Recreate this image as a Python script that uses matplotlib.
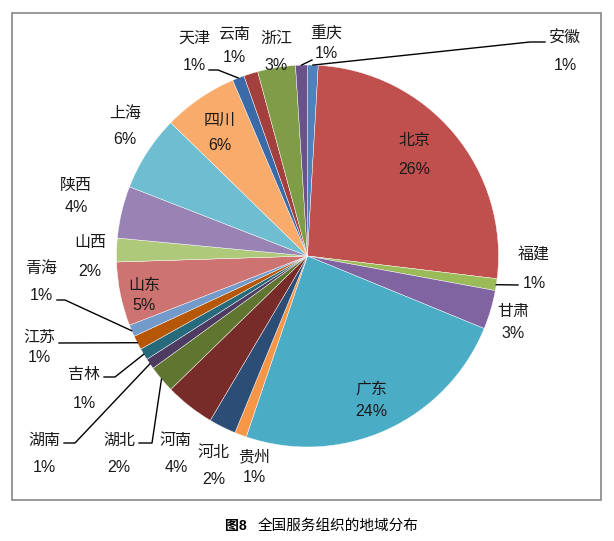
import matplotlib
matplotlib.use("Agg")
import matplotlib.pyplot as plt
from matplotlib.patches import Rectangle

plt.rcParams['font.family'] = ['Liberation Sans', 'Noto Sans CJK SC']

# data: share of service organisations by region (%), clockwise from 12 o'clock
regions = ['安徽', '北京', '福建', '甘肃', '广东', '贵州', '河北', '河南', '湖北', '湖南', '吉林',
           '江苏', '青海', '山东', '山西', '陕西', '上海', '四川', '天津', '云南', '浙江', '重庆']
shares = [0.9, 26.0, 1.0, 3.3, 24.0, 1.0, 2.3, 4.2, 2.3, 0.9, 1.0,
          1.2, 1.0, 5.4, 2.0, 4.4, 6.4, 6.3, 1.0, 1.2, 3.2, 1.0]
title_a = '图8'
title_b = '全国服务组织的地域分布'

# excel 2010 palette
colors = ['#4F81BD', '#C0504D', '#9BBB59', '#8064A2', '#4BACC6', '#F79646',
          '#2C4D75', '#772C2A', '#5F7530', '#4D3B62', '#276A7C', '#B65708',
          '#729ACA', '#CD7371', '#AFC97A', '#9983B5', '#6FBDD1', '#F9AB6B',
          '#3A6BA8', '#A33F3C', '#7F9D46', '#6A5388']

# label layout in pixels: (x, name y, pct y)
label_pos = {
    '安徽': (565, 38, 65), '北京': (414, 140, 170), '福建': (534, 255, 283),
    '甘肃': (513, 311, 333), '广东': (371, 389, 412), '贵州': (254, 457, 478),
    '河北': (214, 452, 480), '河南': (176, 440, 468), '湖北': (119, 440, 468),
    '湖南': (44, 440, 468), '吉林': (84, 375, 403), '江苏': (39, 337, 358),
    '青海': (41, 268, 296), '山东': (144, 285, 305), '山西': (90, 242, 272),
    '陕西': (76, 185, 207), '上海': (125, 113, 140), '四川': (220, 120, 146),
    '天津': (194, 38, 65), '云南': (234, 34, 57), '浙江': (276, 38, 66),
    '重庆': (326, 33, 54),
}
# leader lines: points after the pie edge (pixels)
leaders = {
    '安徽': [(530, 42), (545, 42)],
    '重庆': [(312, 60)],
    '天津': [(218, 70), (209, 70)],
    '福建': [(518, 285)],
    '青海': [(65, 300), (57, 300)],
    '江苏': [(59, 343)],
    '吉林': [(115, 377), (104, 377)],
    '湖南': [(75, 443), (64, 443)],
    '湖北': [(152, 443), (139, 443)],
}

W, H = 614, 541
cx, cy, R = 307.5, 256, 191
fig = plt.figure(figsize=(W / 100, H / 100), dpi=100)

ax = fig.add_axes([(cx - R) / W, (H - cy - R) / H, 2 * R / W, 2 * R / H])
wedges, _ = ax.pie(shares, colors=colors, startangle=90, counterclock=False,
                   wedgeprops=dict(edgecolor='white', linewidth=0.3))
ax.set_xlim(-1, 1)
ax.set_ylim(-1, 1)

lay = fig.add_axes([0, 0, 1, 1])
lay.set_xlim(0, W)
lay.set_ylim(H, 0)
lay.axis('off')

fig.patches.append(Rectangle((12 / W, (H - 500) / H), 589 / W, 487 / H,
                             transform=fig.transFigure, fill=False,
                             edgecolor='#868686', linewidth=1.2))

to_px = lambda p: lay.transData.inverted().transform(ax.transData.transform(p))

import numpy as np
for name, v, w in zip(regions, shares, wedges):
    x, y1, y2 = label_pos[name]
    lay.text(x, y1, name, ha='center', va='center', fontsize=11.5, color='#1a1a1a')
    lay.text(x, y2, f'{v:.0f}%', ha='center', va='center', fontsize=11.5, color='#1a1a1a')
    if name in leaders:
        mid = np.deg2rad((w.theta1 + w.theta2) / 2)
        start = to_px((np.cos(mid), np.sin(mid)))
        pts = [tuple(start)] + leaders[name]
        lay.plot([p[0] for p in pts], [p[1] for p in pts], color='black', linewidth=1)

lay.text(225, 526, title_a, ha='left', va='center', fontsize=10, fontweight='bold')
lay.text(258, 526, title_b, ha='left', va='center', fontsize=10.5)

fig.savefig('out.png', dpi=100)
